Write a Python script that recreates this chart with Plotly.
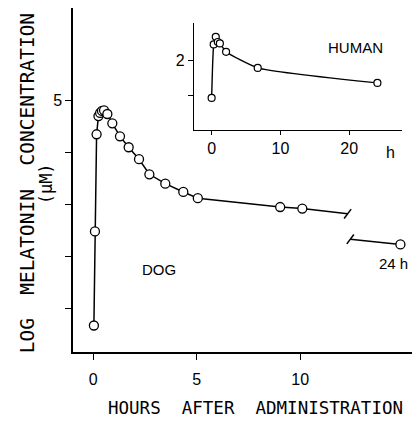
import plotly.graph_objects as go

# ---------------- data ----------------
# Dog (main panel): hours after administration vs log melatonin concentration
dog_hours = [0.03, 0.08, 0.16, 0.25, 0.33, 0.42, 0.52, 0.68, 0.92, 1.29, 1.71, 2.21,
             2.71, 3.48, 4.35, 5.05, 9.03, 10.1]
dog_logconc = [0.67, 2.48, 4.35, 4.70, 4.76, 4.80, 4.81, 4.74, 4.56, 4.31, 4.10, 3.87,
               3.58, 3.40, 3.24, 3.12, 2.95, 2.92]
# line continued up to the axis break
dog_tail_hours = [10.1, 12.29]
dog_tail_logconc = [2.92, 2.82]
# after the break: 24 h sample (drawn at the shortened-axis position)
dog_late_hours = [12.42, 14.84]
dog_late_logconc = [2.33, 2.23]
dog_late_marker = [False, True]

# Human (inset)
human_hours = [0.0, 0.3, 0.6, 0.9, 1.2, 2.1, 6.7, 24.1]
human_logconc = [0.92, 2.45, 2.67, 2.52, 2.48, 2.24, 1.78, 1.35]

main_xticks = [0, 5, 10]
main_yticks = [1, 2, 3, 4, 5]
main_yticklabels = ["", "", "", "", "5"]
inset_xticks = [0, 10, 20]
inset_yticks = [1, 2]
inset_yticklabels = ["", "2"]

# ---------------- figure ----------------
SANS = "Liberation Sans, Arial, sans-serif"
LABEL_FONT = dict(family=SANS, size=16, color="black")
TITLE_FONT = "DejaVu Sans Mono, monospace"

marker_main = dict(symbol="circle", size=9, color="white", line=dict(color="black", width=1.3))
marker_inset = dict(symbol="circle", size=7, color="white", line=dict(color="black", width=1.2))

fig = go.Figure()

fig.add_trace(go.Scatter(x=dog_tail_hours, y=dog_tail_logconc, mode="lines",
                         line=dict(color="black", width=1.5), showlegend=False))
fig.add_trace(go.Scatter(x=dog_hours, y=dog_logconc, mode="lines+markers",
                         line=dict(color="black", width=1.5), marker=marker_main,
                         showlegend=False))
fig.add_trace(go.Scatter(x=dog_late_hours, y=dog_late_logconc, mode="lines",
                         line=dict(color="black", width=1.5), showlegend=False))
fig.add_trace(go.Scatter(x=[h for h, m in zip(dog_late_hours, dog_late_marker) if m],
                         y=[c for c, m in zip(dog_late_logconc, dog_late_marker) if m],
                         mode="markers", marker=marker_main, showlegend=False))

fig.add_trace(go.Scatter(x=human_hours, y=human_logconc, mode="lines+markers",
                         xaxis="x2", yaxis="y2",
                         line=dict(color="black", width=1.4, shape="spline", smoothing=0.5),
                         marker=marker_inset, showlegend=False))

# axis-break slashes at the segment ends
dx, dy = 0.17, 0.09
for (bx, by) in [(dog_tail_hours[-1], dog_tail_logconc[-1]), (dog_late_hours[0], dog_late_logconc[0])]:
    fig.add_shape(type="line", xref="x", yref="y", x0=bx - dx, y0=by - dy, x1=bx + dx, y1=by + dy,
                  line=dict(color="black", width=1.5))

common = dict(showgrid=False, zeroline=False, automargin=False, tickfont=LABEL_FONT,
              tickcolor="black", linecolor="black", showline=True)

fig.update_layout(
    template="none",
    width=413, height=433,
    margin=dict(l=73, r=1, t=8, b=81),
    paper_bgcolor="white", plot_bgcolor="white",
    xaxis=dict(range=[-0.98, 15.4], tickvals=main_xticks, ticks="outside", ticklen=6,
               tickwidth=1.3, linewidth=1.5, domain=[0, 1], ticklabelstandoff=6, **common),
    yaxis=dict(range=[0.16, 6.78], tickvals=main_yticks, ticktext=main_yticklabels,
               ticks="outside", ticklen=6, tickwidth=1.3, linewidth=1.5, domain=[0, 1],
               **common),
    xaxis2=dict(range=[-2.56, 27.7], tickvals=inset_xticks, ticks="outside", ticklen=4,
                tickwidth=1.2, linewidth=1.3, domain=[0.357, 0.971], anchor="y2", **common),
    yaxis2=dict(range=[0.0, 3.06], tickvals=inset_yticks, ticktext=inset_yticklabels,
                ticks="outside", ticklen=5, tickwidth=1.2, linewidth=1.3,
                domain=[0.645, 0.956], anchor="x2", **common),
)

annotations = [
    dict(text="DOG", x=3.18, y=1.74, xref="x", yref="y", showarrow=False,
         font=dict(family=SANS, size=15, color="black")),
    dict(text="24 h", x=14.5, y=1.86, xref="x", yref="y", showarrow=False,
         font=dict(family=SANS, size=15, color="black")),
    dict(text="HUMAN", x=20.9, y=2.37, xref="x2", yref="y2", showarrow=False,
         font=dict(family=SANS, size=15, color="black")),
    dict(text="h", x=26.0, y=0.581, xref="x2", yref="paper", showarrow=False,
         xanchor="center", yanchor="middle",
         font=dict(family=SANS, size=16, color="black")),
    dict(text="HOURS  AFTER  ADMINISTRATION", x=0.537, y=-0.163, xref="paper", yref="paper",
         xanchor="center", yanchor="middle",
         showarrow=False, font=dict(family=TITLE_FONT, size=17.5, color="black")),
    dict(text="LOG  MELATONIN  CONCENTRATION", x=-0.133, y=0.49, xref="paper", yref="paper",
         xanchor="center", yanchor="middle",
         showarrow=False, textangle=-90, font=dict(family=TITLE_FONT, size=19.5, color="black")),
    dict(text="(μM)", x=-0.077, y=0.49, xref="paper", yref="paper",
         xanchor="center", yanchor="middle",
         showarrow=False, textangle=-90, font=dict(family=TITLE_FONT, size=17, color="black")),
]
fig.update_layout(annotations=annotations)

fig.write_html("out.html", config={"displayModeBar": False},
               post_script="document.body.style.margin='0px';")
